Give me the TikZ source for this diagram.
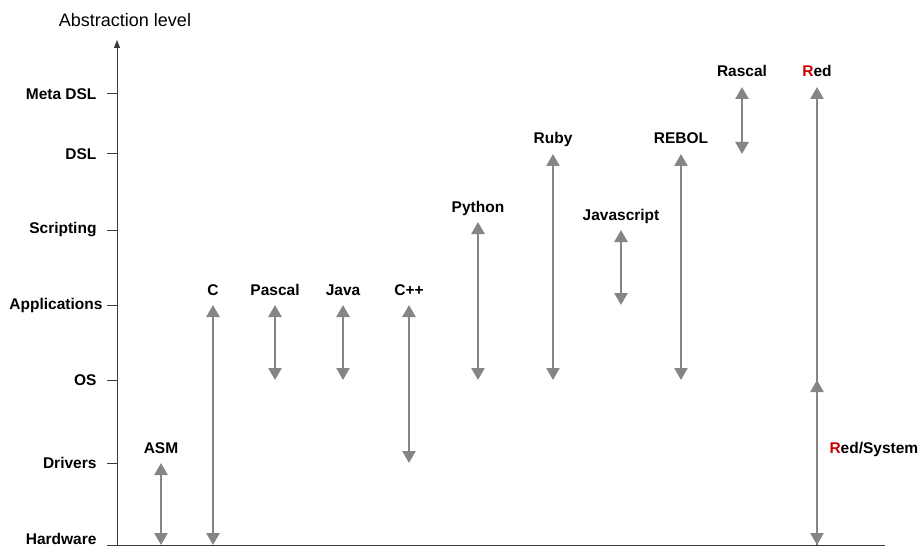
\documentclass[tikz,border=0pt]{standalone}
\usepackage{fontspec}
\setmainfont{Liberation Sans}
\usetikzlibrary{arrows.meta}
\definecolor{spangray}{HTML}{858585}
\definecolor{redR}{HTML}{CC0000}
\definecolor{axisgray}{HTML}{3A3A3A}
\begin{document}
\begin{tikzpicture}[x=1pt,y=-1pt,
    lvl/.style={font=\fontsize{15.5}{17}\selectfont\bfseries,anchor=east},
    lang/.style={font=\fontsize{15.5}{17}\selectfont\bfseries,anchor=base},
    axis/.style={draw=axisgray,line width=1pt},
    span/.style={draw=spangray,line width=2.6pt,
      arrows={Triangle[width=13pt,length=12pt]-Triangle[width=13pt,length=12pt]}}]
    \useasboundingbox (0,0) rectangle (920,548);
    \draw[axis,-{Triangle[width=6pt,length=8pt]}] (117,545) -- (117,40);
    \draw[axis] (117,545) -- (885,545);
    \node[font=\fontsize{18}{20}\selectfont] (title) at (125,20) {Abstraction level};
    \foreach \y/\n/\t in {94/meta/Meta DSL,154/dsl/DSL,230/scr/Scripting,
        380/os/OS,463/drv/Drivers}{
        \draw[axis] (107,\y) -- (117,\y);
        \node[lvl] (\n) at (100,\y) {\t};
    }
    \draw[axis] (107,305) -- (117,305);
    \node[lvl] (app) at (106,305) {Applications};
    \draw[axis] (107,545) -- (117,545);
    \node[lvl] (hw) at (100,539) {Hardware};
    \foreach \x/\a/\b/\n/\t in {161/463/545/asm/ASM,213/305/545/c/C,275/305/380/pascal/Pascal,
        343/305/380/java/Java,409/305/463/cpp/C++,478/222/380/python/Python,553/154/380/ruby/Ruby,
        621/230/305/js/Javascript,681/154/380/rebol/REBOL,742/87/154/rascal/Rascal}{
        \coordinate (\n-top) at (\x,\a);
        \coordinate (\n-bot) at (\x,\b);
        \draw[span] (\n-top) -- (\n-bot);
        \node[lang] (\n) at (\x,\a-10) {\t};
    }
    % Red et Red/System sur la meme ligne
    \coordinate (red-top) at (817,87);
    \coordinate (red-bot) at (817,545);
    \coordinate (redsys-top) at (817,380);
    \draw[span] (red-top) -- (red-bot);
    \draw[span,arrows=-{Triangle[width=13pt,length=12pt]}] (red-bot) -- (redsys-top);
    \node[lang] (red) at (817,77) {\textcolor{redR}{R}ed};
    \node[font=\fontsize{15.5}{17}\selectfont\bfseries,anchor=west] (redsys) at (826,449) {\textcolor{redR}{R}ed/System};
\end{tikzpicture}
\end{document}
